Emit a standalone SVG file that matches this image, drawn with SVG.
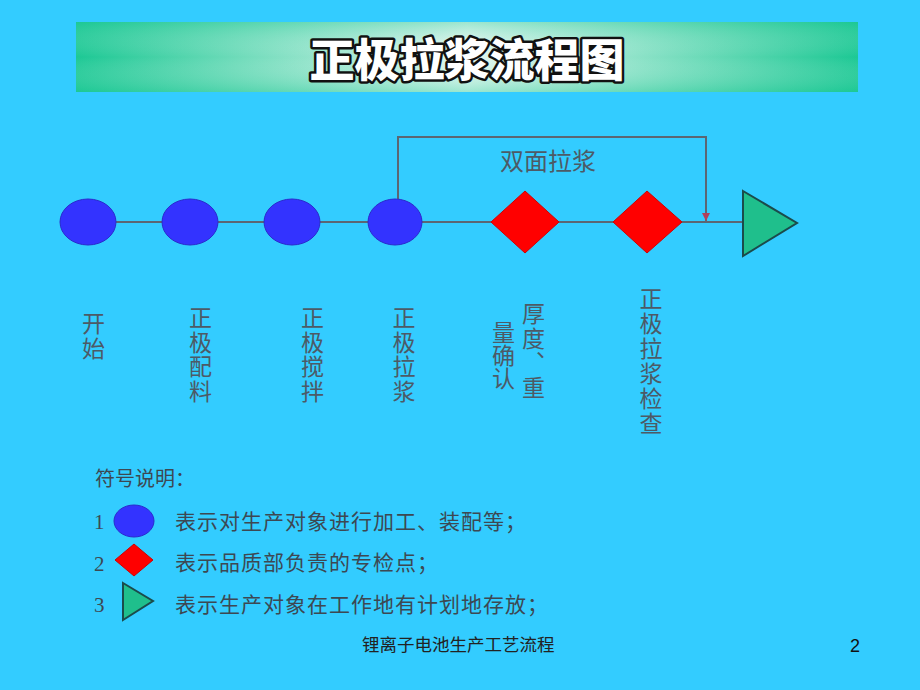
<svg xmlns="http://www.w3.org/2000/svg" width="920" height="690" viewBox="0 0 920 690">
<defs>
<linearGradient id="bannerH" x1="0" y1="0" x2="1" y2="0">
<stop offset="0" stop-color="#1CC894"/>
<stop offset="0.5" stop-color="#E2F6EF"/>
<stop offset="1" stop-color="#1CC894"/>
</linearGradient>
<linearGradient id="bannerV" x1="0" y1="0" x2="0" y2="1">
<stop offset="0" stop-color="#1CC894" stop-opacity="0.35"/>
<stop offset="0.5" stop-color="#FFFFFF" stop-opacity="0"/>
<stop offset="1" stop-color="#1CC894" stop-opacity="0.35"/>
</linearGradient>
<marker id="arr" markerWidth="10" markerHeight="10" refX="8" refY="5" orient="auto" markerUnits="userSpaceOnUse">
<path d="M0,1 L8,5 L0,9 Z" fill="#B0405A"/>
</marker>
</defs>
<style>
.line{fill:none;stroke:#5C6672;stroke-width:2}
.proc{fill:#3333FF;stroke:#2A2ACC;stroke-width:1}
.qc{fill:#FF0000;stroke:#D00000;stroke-width:1}
.store{fill:#1FBF8C;stroke:#1B4B4B;stroke-width:2}
.lbl{font-family:"Noto Sans CJK SC","Noto Sans",sans-serif;font-size:23px;fill:#4D5A66;writing-mode:vertical-rl;letter-spacing:1.5px}
.leg{font-family:"Noto Sans CJK SC","Noto Sans",sans-serif;font-size:21px;fill:#3D4852;letter-spacing:1px}
.num{font-family:"Liberation Serif",serif;font-size:21px;fill:#3D4852}
</style>
<rect width="920" height="690" fill="#33CCFF"/>
<g id="title">
<rect x="76" y="22" width="782" height="70" fill="url(#bannerH)"/>
<rect x="76" y="22" width="782" height="70" fill="url(#bannerV)"/>
<text x="467" y="77" text-anchor="middle" font-family="Noto Sans CJK SC,sans-serif" font-weight="900" font-size="45" fill="#FFFFFF" stroke="#111111" stroke-width="5" paint-order="stroke" stroke-linejoin="round">正极拉浆流程图</text>
</g>
<g id="connectors">
<line class="line" x1="116" y1="222" x2="163" y2="222"/>
<line class="line" x1="218" y1="222" x2="265" y2="222"/>
<line class="line" x1="320" y1="222" x2="368" y2="222"/>
<line class="line" x1="422" y1="222" x2="491" y2="222"/>
<line class="line" x1="559" y1="222" x2="613" y2="222"/>
<line class="line" x1="682" y1="222" x2="743" y2="222"/>
<path class="line" d="M398,199 V137 H706 V221" marker-end="url(#arr)"/>
<text x="548" y="170" text-anchor="middle" font-family="Noto Sans CJK SC,sans-serif" font-size="24" fill="#4D5A66">双面拉浆</text>
</g>
<g id="n1"><ellipse class="proc" cx="88" cy="222" rx="28" ry="23"/></g>
<g id="n2"><ellipse class="proc" cx="190" cy="222" rx="28" ry="23"/></g>
<g id="n3"><ellipse class="proc" cx="292" cy="222" rx="28" ry="23"/></g>
<g id="n4"><ellipse class="proc" cx="395" cy="222" rx="27" ry="23"/></g>
<g id="n5"><polygon class="qc" points="525,191 559,222 525,253 491,222"/></g>
<g id="n6"><polygon class="qc" points="647,191 682,222 647,253 613,222"/></g>
<g id="n7"><polygon class="store" points="743,191 797,223 743,256"/></g>
<g id="labels">
<text class="lbl" x="93.5" y="312">开始</text>
<text class="lbl" x="200.5" y="306">正极配料</text>
<text class="lbl" x="312.5" y="306">正极搅拌</text>
<text class="lbl" x="404" y="306">正极拉浆</text>
<text class="lbl" x="533.5" y="302">厚度、重</text>
<text class="lbl" x="503.5" y="321" style="letter-spacing:0">量确认</text>
<text class="lbl" x="651" y="287" style="letter-spacing:2px">正极拉浆检查</text>
</g>
<g id="legend">
<text x="95" y="486" font-family="Noto Sans CJK SC,sans-serif" font-size="20" fill="#3D4852">符号说明：</text>
<text class="num" x="94" y="529">1</text>
<ellipse class="proc" cx="134" cy="521" rx="20" ry="16"/>
<text class="leg" x="175" y="529">表示对生产对象进行加工、装配等；</text>
<text class="num" x="94" y="571">2</text>
<polygon class="qc" points="134,544 153,560 134,576 115,560"/>
<text class="leg" x="175" y="570">表示品质部负责的专检点；</text>
<text class="num" x="94" y="612">3</text>
<polygon class="store" points="123,583 153,601 123,620"/>
<text class="leg" x="175" y="612">表示生产对象在工作地有计划地存放；</text>
</g>
<g id="footer">
<text x="362" y="651" font-family="Noto Sans CJK SC,sans-serif" font-size="17.5" fill="#222222">锂离子电池生产工艺流程</text>
<text x="855" y="652" font-family="Liberation Sans,sans-serif" font-size="18" fill="#111111" text-anchor="middle">2</text>
</g>
</svg>
